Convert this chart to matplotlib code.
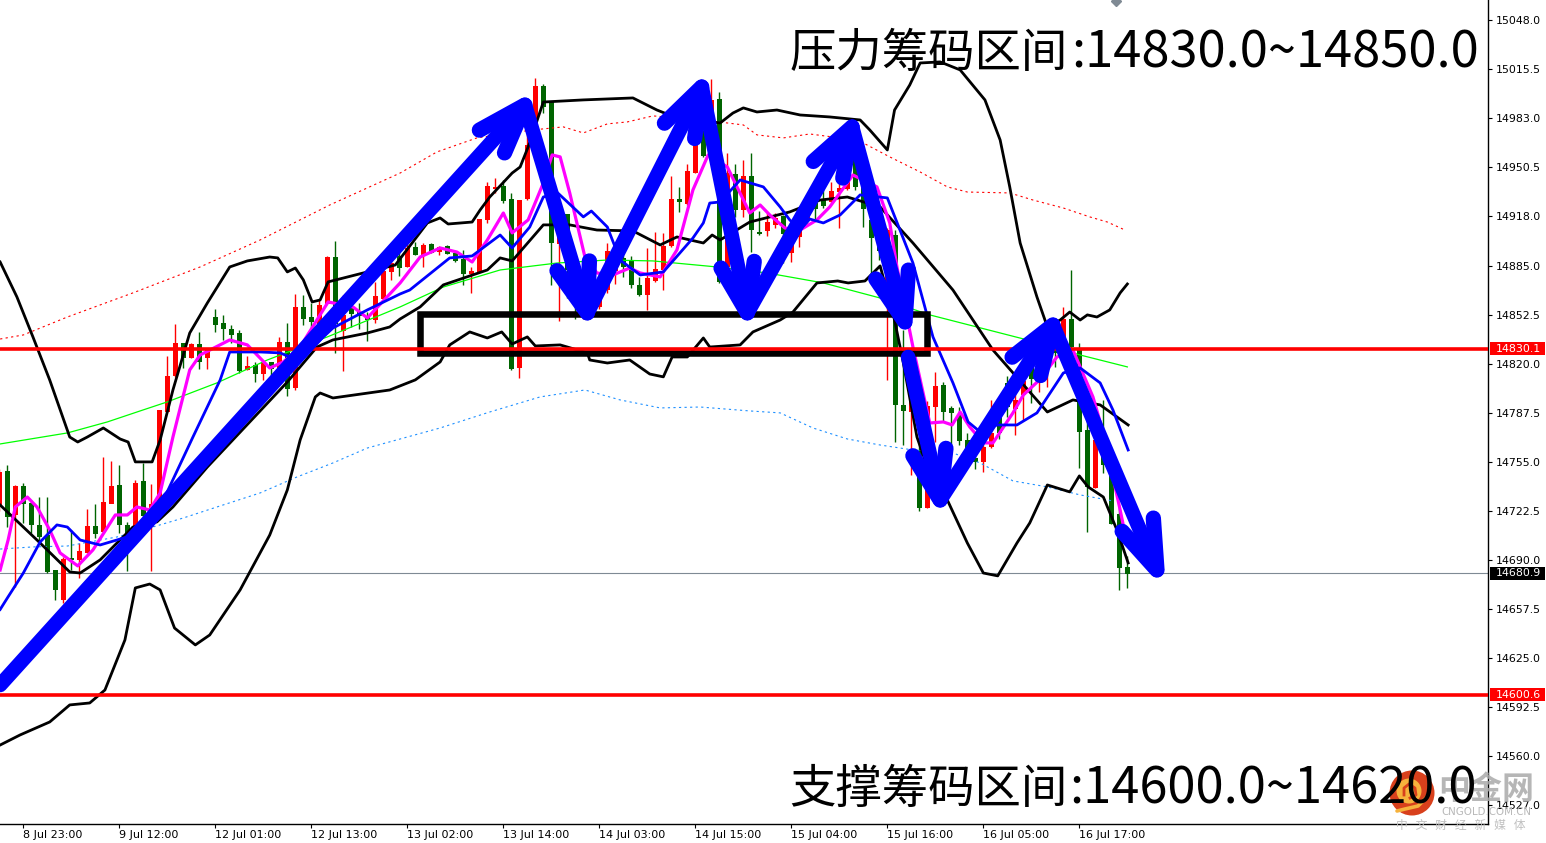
import numpy as np
import matplotlib

matplotlib.use("Agg")
import matplotlib.pyplot as plt
from matplotlib.patches import Circle, Rectangle

plt.rcParams["font.family"] = ["Noto Sans CJK SC", "DejaVu Sans"]

# candles, one per bar, bar -1 is cut by the left edge
opens = [14725, 14748.4, 14719.7, 14738.5, 14727.4, 14713.1, 14706.4, 14683.2, 14663.3, 14690.9,
         14689.8, 14694.7, 14712.4, 14708.6, 14727.4, 14739.6, 14713.1, 14712, 14742.2, 14712,
         14727.4, 14788, 14811.9, 14833.6, 14824, 14832.9, 14824, 14850.8, 14846.8, 14842.8,
         14840.2, 14815.9, 14819.2, 14813.2, 14820.7, 14817, 14834.4, 14804.2, 14857.4, 14850.8,
         14845.7, 14860.1, 14890.6, 14842, 14856.8, 14854, 14851.7, 14849.5, 14863.4, 14881.1,
         14891.5, 14884.3, 14897, 14892.1, 14899.4, 14894.3, 14898, 14893.2, 14889.2, 14879.5,
         14880.4, 14915.3, 14936, 14937.9, 14929, 14817.4, 14929.2, 14975, 15004.2, 14993.8,
         14899.4, 14919.3, 14884, 14860, 14878, 14857.8, 14868.9, 14882, 14889.9, 14888.3,
         14872.2, 14865.6, 14875, 14882.1, 14898, 14929, 14926.4, 14946.7, 14972.8, 14957.3,
         14995.3, 14884.3, 14945.8, 14921.9, 14944.5, 14907.3, 14908, 14912, 14917.6, 14893.7,
         14904.3, 14915.4, 14926.4, 14929.1, 14927.5, 14934.2, 14936.4, 14957, 14961.4, 14915.4,
         14905, 14860, 14905.4, 14792.7, 14788.2, 14761.7, 14724.6, 14791.5, 14805.9, 14790.4,
         14786, 14769.4, 14757.3, 14755.1, 14765, 14787, 14807, 14790.4, 14799.3, 14817,
         14809.2, 14818, 14831.3, 14831.3, 14849.7, 14829.1, 14776.1, 14737.8, 14760, 14745.1,
         14720.4, 14684.8]
highs = [14750, 14752.9, 14739.6, 14740.7, 14729.6, 14731.9, 14731.9, 14683.2, 14692, 14709.7,
         14700.9, 14723.4, 14727, 14757.9, 14755.5, 14752.9, 14715.3, 14742.9, 14754, 14740,
         14789.3, 14825.2, 14846.4, 14834, 14834, 14841, 14830.2, 14856.3, 14852.3, 14845.7,
         14842.4, 14825.2, 14821.4, 14822.5, 14821.4, 14837.5, 14846.8, 14866, 14865.4, 14860.1,
         14862.3, 14891.5, 14901.4, 14865.6, 14860.1, 14860.1, 14854.6, 14874.5, 14884.4, 14888.8,
         14895, 14901, 14901, 14899.8, 14899.8, 14898, 14899, 14894.3, 14895.4, 14884.3,
         14916, 14940.7, 14943, 14941.8, 14933, 14928.6, 14972.8, 15009.3, 15005.5, 14993.8,
         14915.3, 14919.3, 14892, 14885, 14886, 14873.3, 14899.8, 14895, 14892, 14891.4,
         14877.7, 14896.5, 14907.6, 14906.5, 14944.5, 14937.4, 14952.4, 14972.8, 14975, 15008.6,
         15000.2, 14959.5, 14952.4, 14955.1, 14959.5, 14921.5, 14919.7, 14919.7, 14918.7, 14906.5,
         14913.2, 14924.2, 14934, 14936.4, 14940.8, 14948.5, 14948.5, 14965, 14961.4, 14939.7,
         14925, 14910, 14908.7, 14842.4, 14813.7, 14775, 14795.3, 14814.8, 14808.1, 14792,
         14791.5, 14773.9, 14763.9, 14769.4, 14796, 14795, 14812, 14813.7, 14811.5, 14821.4,
         14823.6, 14833.6, 14834.7, 14857.9, 14882.2, 14833.6, 14787.1, 14769.4, 14795.8, 14752,
         14726.3, 14692.5]
lows = [14722, 14712, 14672.2, 14714.2, 14707.5, 14700.9, 14681, 14663.3, 14661, 14683.2,
        14677.7, 14694.3, 14704.2, 14707.5, 14727.4, 14707.5, 14682.8, 14712, 14718.6, 14682.8,
        14725, 14788, 14811.4, 14817, 14823.6, 14816.3, 14816.3, 14841.3, 14835.8, 14833.6,
        14813.7, 14815.9, 14808.1, 14809.2, 14811.4, 14817, 14798.8, 14802.6, 14845.7, 14835.8,
        14845.7, 14860.1, 14826.9, 14815.4, 14844.6, 14842.8, 14835.3, 14847.3, 14861.2, 14875.6,
        14878, 14884.3, 14892.1, 14884.3, 14893.2, 14892.1, 14892.8, 14887.7, 14872.2, 14866.7,
        14880, 14913.1, 14933, 14926.4, 14815.8, 14810.3, 14928.6, 14972.8, 14986, 14872.2,
        14848.5, 14863.3, 14850, 14850, 14852, 14856, 14866.7, 14873, 14877.7, 14870,
        14864.9, 14855.6, 14874.4, 14868.9, 14897.6, 14920.8, 14925.3, 14946.3, 14957.3, 14956.9,
        14873.3, 14883.2, 14917.5, 14917.5, 14894.3, 14905.3, 14904.7, 14909.8, 14886.6, 14887.7,
        14897.2, 14913.2, 14916, 14923.1, 14926.4, 14909.8, 14935.3, 14935, 14911, 14880,
        14888.8, 14809.2, 14768.3, 14766.1, 14746.2, 14722.6, 14724.1, 14768.3, 14781.6, 14763.9,
        14766.1, 14754, 14750, 14748.4, 14763.9, 14770, 14785, 14772.8, 14782.7, 14793.8,
        14801.5, 14804.8, 14818, 14827, 14818, 14751.1, 14708.6, 14737.4, 14747.4, 14714,
        14670, 14671]
closes = [14748, 14718.6, 14738.5, 14727.4, 14713.1, 14705.3, 14682.1, 14670.4, 14690.3, 14689.8,
          14695.8, 14712.4, 14707.5, 14728.3, 14739, 14713.1, 14705.3, 14740.7, 14719, 14727,
          14789.3, 14811.9, 14833.6, 14824.3, 14833.1, 14821.4, 14830.2, 14845.7, 14843.1, 14839.1,
          14815.4, 14818.5, 14813.7, 14820.3, 14817, 14834.4, 14803.7, 14857.4, 14849.7, 14847.9,
          14859, 14890.4, 14846.8, 14852.4, 14853.5, 14851.7, 14849, 14865, 14881.1, 14886.6,
          14884, 14896.5, 14892.5, 14898.7, 14893.6, 14897.2, 14893.2, 14888.3, 14879.5, 14881,
          14916, 14937.4, 14937, 14928.1, 14816.9, 14928.6, 14965, 15004.2, 14990.5, 14900.3,
          14915.3, 14882.1, 14866, 14878, 14858, 14868.9, 14894.3, 14891, 14884.3, 14872.2,
          14865.6, 14876.6, 14882.6, 14898, 14929.2, 14927.5, 14947.4, 14966.2, 14957.8, 14994.9,
          14874.4, 14946.3, 14921.9, 14944.5, 14908.7, 14906.5, 14913.5, 14916.4, 14906.5, 14901,
          14908.7, 14918.7, 14923, 14924.7, 14934.6, 14936.4, 14945.2, 14937.5, 14923.1, 14903.9,
          14895, 14908.7, 14792.7, 14788.7, 14796.4, 14724.6, 14792, 14804.8, 14788.2, 14787.6,
          14769, 14756.2, 14755.1, 14764.6, 14773.9, 14774, 14791.6, 14796, 14808.1, 14810.3,
          14820.3, 14830.2, 14827, 14849.5, 14831.3, 14775, 14738.5, 14769.4, 14752.9, 14714.2,
          14684.8, 14681]

# bollinger bands
upper_bars = [-0.9, 1.2, 3.2, 5.3, 7.8, 8.8, 10, 12, 14.1, 15.1, 16, 18.1, 19.1, 20.7, 22.8, 25, 27.8, 30, 32.8, 33.8,
              35, 36, 37, 38.1, 39.1, 40.1, 45, 48.5, 52.5, 54.1, 55.1, 58.1, 59.1, 60.3, 63.1, 64.1, 65.1, 67, 72, 78.2,
              81.2, 83.7, 89.1, 90.7, 92, 93.7, 96.2, 99.1, 102.8, 106.6, 107.8, 110, 110.9, 112.8, 114.1, 116.6, 119.1,
              122.2, 124.1, 125.3, 126.6, 128.7, 130, 131.6, 132.8, 134.1, 135, 136.2, 137.8, 139.1, 140]
upper_vals = [14887.5, 14864.3, 14837.8, 14809.2, 14771.4, 14768.1, 14771.4, 14777.4, 14770.1, 14768.1, 14754.9, 14754.9,
              14769.4, 14802.6, 14840.4, 14860.3, 14884.2, 14888.2, 14890.8, 14890.2, 14880.9, 14883.5, 14875.6, 14861,
              14862.3, 14874.3, 14880.9, 14885.5, 14913.4, 14916.7, 14912.7, 14914, 14922, 14930.6, 14946.5, 14950.5,
              14963.8, 14993.6, 14995, 14996.3, 14988.3, 14983, 14979.7, 14986.3, 14989.7, 14987, 14988.3, 14985, 14983.7,
              14981.7, 14975.1, 14961.8, 14988.3, 15004.9, 15019.5, 15020.2, 15014.9, 14995, 14968.4, 14937.3, 14900.1,
              14864.3, 14844.4, 14849, 14854.3, 14849, 14852.4, 14851, 14855.7, 14867, 14872.9]
middle_bars = [-0.9, 4.1, 7.8, 9.1, 11.6, 15.7, 18.7, 20.7, 25, 35, 38.7, 40.7, 45, 47.8, 49.1, 51.6, 54.5, 60, 61.6, 63.1,
               67, 70.3, 73.7, 78.2, 81.6, 83.7, 87, 88.1, 89.1, 92.8, 97.8, 101.6, 105, 109.1, 113.2, 118.2, 123.2, 130,
               133.2, 136.6, 140.1]
middle_vals = [14726.3, 14701.1, 14681.9, 14681.2, 14689.9, 14711.7, 14715.1, 14725, 14751.5, 14807.9, 14831.1, 14835.8,
               14840.4, 14844.4, 14849.7, 14857.7, 14872.3, 14882.2, 14890.2, 14888.2, 14912.1, 14912.1, 14908.7, 14908.1,
               14898.8, 14904.1, 14900.1, 14905.4, 14902.1, 14914, 14920.7, 14928.6, 14930.6, 14924, 14900.1, 14868.9,
               14829.1, 14788, 14796, 14792.7, 14779.4]
lower_bars = [-0.9, 1.6, 5.3, 7.8, 10.3, 12.2, 14.7, 16, 17.8, 19.1, 20.9, 23.5, 25.3, 29.1, 32.8, 35, 36.6, 38.5, 39.1,
              40.7, 47.8, 51, 54.1, 55.3, 57.8, 60, 61.8, 63.1, 65, 66, 69.1, 72.5, 72.8, 75, 77.8, 80.3, 82, 83.1, 85, 87,
              87.8, 91.6, 93.2, 96.6, 98.2, 101.2, 103.8, 105.1, 107.2, 109.1, 110.9, 112, 113.7, 115, 117.5, 120, 122,
              123.8, 126.2, 127.8, 130, 132.8, 134, 135.1, 137, 138.7, 140.1]
lower_vals = [14567.1, 14573.8, 14582.4, 14593.7, 14595, 14603.6, 14636.8, 14671.3, 14673.9, 14670, 14644.7, 14633.5,
              14640.1, 14670, 14706.4, 14736.3, 14769.4, 14798, 14800.6, 14797.3, 14802.6, 14809.3, 14821.2, 14832.5,
              14841.1, 14837.1, 14841.1, 14833.1, 14837.8, 14831.8, 14832.5, 14827.2, 14822.5, 14820.5, 14822.5, 14813.2,
              14811.3, 14824.5, 14824.5, 14837.1, 14831.1, 14832.5, 14841.1, 14849, 14854.3, 14873.6, 14874.9, 14873.6,
              14874.9, 14884.9, 14849, 14820.5, 14771.4, 14751.5, 14729.6, 14701.1, 14681.2, 14679.3, 14701.1, 14714.4,
              14739.6, 14735, 14745.6, 14738.3, 14731.6, 14709.7, 14687.9]

# fast averages
magenta_bars = [-0.9, 0.1, 1, 2.5, 3.7, 5.3, 6.6, 8.8, 10.7, 13.5, 15, 16.2, 17.8, 19.1, 20.7, 22.8, 24.1, 27.8, 30, 32.8,
                34.5, 36.6, 40.1, 43.2, 45, 49.1, 51.6, 54.1, 56.2, 58.1, 60, 62, 63.1, 65.1, 67, 68.1, 69.1, 70.3, 72.2,
                73.7, 75.7, 77.8, 79.1, 81.6, 83.7, 85.7, 87.6, 90, 92.8, 94.1, 95.3, 97.2, 99.1, 101.2, 102.8, 105.7,
                108.7, 110.3, 111.2, 113.2, 115.3, 117, 118.1, 119.1, 120.3, 122, 123.2, 125.7, 127, 129, 131.2, 133.2,
                135.7, 137, 139.1, 140]
magenta_vals = [14683.2, 14703.1, 14725, 14731.6, 14725, 14709.8, 14694.5, 14685.9, 14696.5, 14719.7, 14719.7, 14725, 14723,
                14734.3, 14771.4, 14815.9, 14825.8, 14835.8, 14832.5, 14817.2, 14821.2, 14831.1, 14861, 14857.7, 14850.4,
                14873.6, 14890.8, 14896.8, 14894.1, 14887.5, 14902.1, 14920, 14906.8, 14915.4, 14939.9, 14958.5, 14957.2,
                14933.3, 14890.8, 14880.2, 14878.9, 14883.5, 14880.2, 14877.6, 14895.5, 14935.3, 14958.5, 14950.5, 14920,
                14925.3, 14918.7, 14910, 14908.7, 14915.4, 14924, 14945.2, 14937.3, 14913.4, 14884.2, 14831.1, 14780.7,
                14781.4, 14779.4, 14788, 14778.1, 14767.5, 14767.5, 14787.4, 14799.3, 14809.2, 14824.5, 14829.1, 14798,
                14774.1, 14723, 14699.8]
blue_bars = [-0.9, 0, 2, 4.1, 6.2, 7.5, 9.1, 11.6, 13.7, 16.6, 19.1, 23.2, 26.6, 27.8, 31.6, 34.1, 35.3, 38.7, 40.7, 45,
             49.1, 50.3, 55.3, 58.1, 61.6, 63.1, 65.3, 67, 68.8, 72, 73, 75, 76.6, 79.1, 82, 85.7, 87, 87.8, 89.1, 91.6,
             94.5, 96.6, 97.8, 99.1, 100.3, 102, 104.1, 106.6, 110, 113.2, 115.7, 118.2, 120.1, 121.6, 123.7, 126.2, 128.7,
             132, 134.1, 136.6, 138.2, 140.1]
blue_vals = [14657, 14664.6, 14681.2, 14701.8, 14713.1, 14711.7, 14703.1, 14699.8, 14703.1, 14707.8, 14725, 14771.4, 14809.2,
             14827.8, 14827.8, 14827.2, 14824.5, 14833.8, 14843.7, 14855.7, 14866.3, 14868.9, 14890.2, 14891.5, 14905.4,
             14896.8, 14910.7, 14930.6, 14933.3, 14917.4, 14921.3, 14910.7, 14888.8, 14878.9, 14880.9, 14903.4, 14913.4,
             14926.6, 14927.3, 14941.9, 14937.3, 14924, 14915.4, 14908.7, 14916, 14913.4, 14918.7, 14932, 14930, 14886.8,
             14837.8, 14807.3, 14781.4, 14774.8, 14779.4, 14779.4, 14787.4, 14813.9, 14817.2, 14807.3, 14789.3, 14762.8]

# slow average and its envelope
green_bars = [-0.9, 7.5, 12.5, 16.6, 20, 26.2, 32.5, 40, 49.1, 54.5, 61.6, 68.7, 75, 80.7, 88.7, 95, 102, 109.1, 115.3,
              127.5, 134.1, 140]
green_vals = [14766.8, 14774.1, 14781.4, 14788.7, 14794.7, 14807.3, 14822.5, 14837.8, 14857.7, 14870.9, 14882.2, 14886.8,
              14888.8, 14888.2, 14884.2, 14880.2, 14873.6, 14863.6, 14852.4, 14835.8, 14825.8, 14817.9]
env_up_bars = [-0.9, 2, 7.5, 15.7, 24.1, 31.6, 40.3, 49.1, 53.7, 58.7, 65.7, 69.5, 72, 75, 77.5, 80.7, 85.3, 90, 92, 93.7,
               97, 100.3, 103.2, 107, 110.3, 114.1, 117.5, 120, 125.3, 128.2, 132, 135.3, 137.5, 139.7]
env_up_vals = [14836.4, 14839.1, 14851, 14867, 14884.2, 14902.1, 14925.3, 14946.5, 14960.5, 14969.8, 14975.1, 14977.1,
               14973.1, 14979.1, 14980.4, 14984.4, 14982.4, 14979.7, 14978.4, 14971.8, 14969.8, 14972.4, 14970.4, 14966.4,
               14957.2, 14947.2, 14937.3, 14933.9, 14933.3, 14928.6, 14923.3, 14917.4, 14914, 14908.7]
env_dn_bars = [-0.9, 3.2, 7.5, 13.7, 17.8, 22, 26.2, 31.6, 36.2, 40.7, 45, 49.1, 54.1, 60.3, 66.6, 72.2, 76.6, 81.6, 86.6,
               92.8, 96.6, 100.7, 105, 109.1, 113.2, 118.2, 121.6, 125.7, 130, 134.1, 138.2]
env_dn_vals = [14697.1, 14698.5, 14699.1, 14705.1, 14711.1, 14717.7, 14725, 14734.3, 14744.9, 14754.2, 14764.1, 14770.1,
               14777.4, 14788, 14798, 14802.6, 14796, 14790.7, 14791.3, 14788.7, 14787.4, 14777.4, 14770.1, 14766.1,
               14762.8, 14760.8, 14754.2, 14742.3, 14738.3, 14733, 14729]

# hand drawn arrows, from (bar, price) to (bar, price)
arrow_from = [(-0.9, 14606.9), (64.7, 14991.6), (72.5, 14853.7), (86.8, 15003.6), (92.5, 14853.7),
              (105.6, 14977.1), (112.6, 14824.5), (116.6, 14729.6), (130.7, 14845.7)]
arrow_to = [(64.7, 14991.6), (72.5, 14853.7), (86.8, 15003.6), (92.5, 14853.7), (105.6, 14977.1),
            (112.2, 14847.7), (116.6, 14729.6), (130.7, 14845.7), (143.7, 14683.2)]

# zone box and horizontal levels
box_bars = (51.6, 114.9)
box_prices = (14827.2, 14852.7)
level_prices = [14830.1, 14600.6]
last_price = 14680.9

price_ticks = [15048.0, 15015.5, 14983.0, 14950.5, 14918.0, 14885.0, 14852.5, 14820.0, 14787.5,
               14755.0, 14722.5, 14690.0, 14657.5, 14625.0, 14592.5, 14560.0, 14527.0]
time_ticks = [2, 14, 26, 38, 50, 62, 74, 86, 98, 110, 122, 134]
time_labels = ["8 Jul 23:00", "9 Jul 12:00", "12 Jul 01:00", "12 Jul 13:00", "13 Jul 02:00", "13 Jul 14:00",
               "14 Jul 03:00", "14 Jul 15:00", "15 Jul 04:00", "15 Jul 16:00", "16 Jul 05:00", "16 Jul 17:00"]

RED = "#ff0000"
GREEN = "#006400"
BLUE = "#0000ff"
W, H = 1546, 843


def draw_arrow(ax, start, tip, lw, head=52, spread=19):
    """thick shaft plus two barbs, barb length is in pixels"""
    a = ax.transData.transform(start)
    b = ax.transData.transform(tip)
    back = np.arctan2(*(a - b)[::-1])
    pts = []
    for sign in (1, -1):
        ang = back + sign * np.radians(spread)
        pts.append(b + head * np.array([np.cos(ang), np.sin(ang)]))
    barbs = ax.transData.inverted().transform(pts)
    style = dict(color=BLUE, solid_capstyle="round", solid_joinstyle="round", zorder=8, clip_on=False)
    ax.plot([start[0], tip[0]], [start[1], tip[1]], lw=lw, **style)
    ax.plot([barbs[0][0], tip[0], barbs[1][0]], [barbs[0][1], tip[1], barbs[1][1]], lw=lw * 1.05, **style)


def caption(fig, left, split, baseline, head, tail):
    """chinese part and digits are sized apart, the digits run wider in the original"""
    y = 1 - baseline / H
    fig.text(left / W, y, head, fontsize=33.4, va="baseline", ha="left", color="black")
    fig.text(split / W, y, tail, fontsize=36.4, va="baseline", ha="left", color="black")


def main():
    fig = plt.figure(figsize=(W / 100, H / 100), dpi=100)
    ax = fig.add_axes([0, 19.5 / H, 1488 / W, 823.5 / H])
    ax.set_xlim(-0.916, 185.08)
    ax.set_ylim(14515.05, 15061.27)

    bars = np.arange(-1, len(opens) - 1)
    o, hi, lo, c = map(np.array, (opens, highs, lows, closes))
    colors = np.where(c >= o, RED, GREEN)
    ax.vlines(bars, lo, hi, colors=colors, lw=1, zorder=2)
    ax.bar(bars, np.abs(c - o) + 0.4, bottom=np.minimum(o, c) - 0.2, width=0.62, color=colors, lw=0, zorder=2)

    ax.plot(env_up_bars, env_up_vals, color=RED, lw=0.8, ls=(0, (2, 3)), zorder=3)
    ax.plot(env_dn_bars, env_dn_vals, color="#1e90ff", lw=0.8, ls=(0, (2, 3)), zorder=3)
    ax.plot(green_bars, green_vals, color="#00ff00", lw=0.9, zorder=3)
    for xs, ys in [(upper_bars, upper_vals), (middle_bars, middle_vals), (lower_bars, lower_vals)]:
        ax.plot(xs, ys, color="black", lw=2.0, zorder=4)
    ax.plot(magenta_bars, magenta_vals, color="#ff00ff", lw=2.3, zorder=5)
    ax.plot(blue_bars, blue_vals, color=BLUE, lw=2.0, zorder=5)

    ax.axhline(last_price, color="#7f8a94", lw=0.8, zorder=1)
    ax.add_patch(Rectangle((box_bars[0], box_prices[0]), box_bars[1] - box_bars[0], box_prices[1] - box_prices[0],
                           fill=False, ec="black", lw=4.7, joinstyle="miter", zorder=6))
    for p in level_prices:
        ax.axhline(p, color=RED, lw=2.6, zorder=7)
    for start, tip in zip(arrow_from, arrow_to):
        draw_arrow(ax, start, tip, lw=10.5)

    # axes like the trading terminal: only right and bottom
    ax.spines[["top", "left"]].set_visible(False)
    ax.spines[["right", "bottom"]].set_linewidth(1.0)
    ax.yaxis.tick_right()
    ax.set_yticks(price_ticks)
    ax.set_yticklabels([f"{v:.1f}" for v in price_ticks], fontsize=7.9, family="DejaVu Sans")
    ax.tick_params(axis="y", length=3, width=0.8, pad=2.5)
    ax.set_xticks(time_ticks)
    ax.set_xticklabels(time_labels, fontsize=8.0, ha="left", family="DejaVu Sans")
    ax.tick_params(axis="x", length=3, width=0.8, pad=2)

    # price tags on the axis, 55 px wide and 13 px tall
    tag_tf = ax.get_yaxis_transform()
    for p, col in [(level_prices[0], RED), (level_prices[1], RED), (last_price, "black")]:
        ax.add_patch(Rectangle((1490 / 1488, p - 4.3), 55 / 1488, 8.6, transform=tag_tf, fc=col, ec="none",
                               clip_on=False, zorder=19))
        ax.text(1496 / 1488, p, f"{p:.1f}", transform=tag_tf, color="white", fontsize=7.9, family="DejaVu Sans",
                va="center", ha="left", clip_on=False, zorder=20)

    # big captions
    caption(fig, 790, 1071, 67, "压力筹码区间", ":14830.0~14850.0")
    caption(fig, 789, 1069, 803, "支撑筹码区间", ":14600.0~14620.0")

    # watermark and small marker, in a pixel overlay
    ov = fig.add_axes([0, 0, 1, 1], facecolor="none")
    ov.set_xlim(0, W)
    ov.set_ylim(H, 0)
    ov.axis("off")
    ov.add_patch(Circle((1412, 793), 22.5, fc="#d8401c", ec="none"))
    ov.add_patch(Circle((1409, 791), 12.5, fc="#f6b23c", ec="none"))
    ov.plot([1397, 1405, 1418, 1427], [811, 809, 806, 797], color="#f6b23c", lw=2.6, solid_capstyle="round")
    ov.plot([1404, 1404, 1409, 1415, 1416, 1410], [795, 788, 784, 788, 795, 798], color="#d8401c", lw=2.0)
    ov.text(1486, 790, "中金网", fontsize=23, fontweight="bold", color="#a9a9a9", alpha=0.85, ha="center", va="center")
    ov.text(1486, 812, "CNGOLD.COM.CN", fontsize=7.4, color="#b8b8b8", ha="center", va="center", family="DejaVu Sans")
    ov.text(1461, 825, "中   文   财   经   新   媒   体", fontsize=8.5, color="#c0c0c0", ha="center", va="center")
    ov.plot([1116], [1], marker="D", ms=5, color="#7f8a94", clip_on=True)

    fig.savefig("out.png", dpi=100)
    plt.close(fig)


if __name__ == "__main__":
    main()
